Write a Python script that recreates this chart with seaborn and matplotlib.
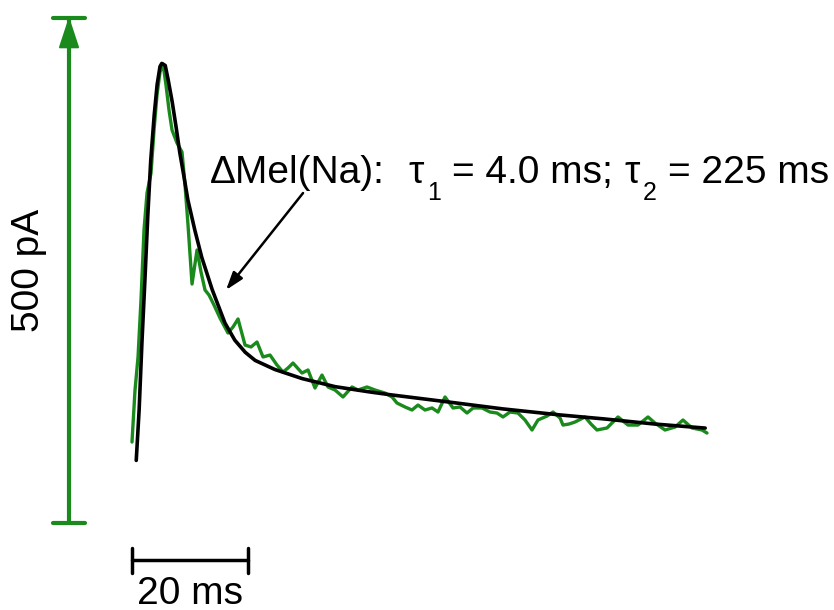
import numpy as np
import pandas as pd
import matplotlib
matplotlib.use("Agg")
import matplotlib.pyplot as plt
import seaborn as sns

# Recorded current trace (time in ms, current in pA)
trace_t = [0.17, 0.69, 1.21, 1.72, 2.24, 2.76, 3.45, 3.97, 4.48, 5.00,
           5.52, 6.03, 6.55, 7.07, 7.93, 8.79, 9.31, 9.83, 10.52, 11.38,
           12.07, 12.76, 13.45, 14.31, 15.34, 16.72, 17.59, 18.45, 19.66, 20.69,
           21.72, 22.76, 23.97, 25.17, 26.21, 27.07, 27.93, 29.48, 30.52, 31.72,
           32.93, 33.97, 35.17, 36.55, 38.10, 39.14, 40.69, 42.07, 43.79, 45.00,
           45.86, 47.24, 48.45, 49.48, 50.69, 51.90, 52.93, 54.14, 55.52, 56.72,
           57.93, 58.97, 60.52, 61.90, 63.10, 64.14, 65.34, 66.72, 67.93, 69.14,
           70.17, 71.72, 72.76, 73.97, 74.48, 75.52, 76.55, 78.28, 79.31, 80.34,
           82.07, 83.97, 85.69, 87.41, 89.14, 90.34, 92.07, 93.79, 95.17, 96.72,
           98.45, 99.31]
trace_pA = [80.2, 131.7, 164.4, 220.8, 290.1, 326.7, 346.5, 389.1, 423.8, 446.5,
            454.5, 433.7, 408.9, 389.1, 376.2, 367.3, 334.7, 295.0, 236.6, 270.3,
            248.5, 230.7, 225.7, 215.8, 203.0, 188.1, 194.1, 202.0, 176.2, 174.3,
            179.2, 164.4, 166.3, 156.4, 149.5, 153.5, 158.4, 148.5, 151.5, 133.7,
            146.5, 134.7, 131.7, 124.8, 134.7, 131.7, 134.7, 131.7, 128.7, 124.8,
            118.8, 114.9, 111.9, 116.8, 111.9, 113.9, 109.9, 124.8, 113.9, 114.9,
            108.9, 113.9, 113.9, 109.9, 108.9, 105.0, 109.9, 108.9, 102.0, 92.1,
            102.0, 105.9, 109.9, 104.0, 97.0, 98.0, 100.0, 105.0, 98.0, 92.1,
            94.1, 105.0, 97.0, 97.0, 105.0, 99.0, 92.1, 95.0, 102.0, 94.1,
            92.1, 89.1]

# Bi-exponential fit
fit_t = [0.9, 1.4, 1.9, 2.4, 2.9, 3.4, 4.0, 4.5, 5.0, 5.3,
         5.9, 6.4, 7.1, 7.8, 8.4, 9.1, 9.8, 11.0, 12.2, 14.0,
         16.2, 17.9, 19.7, 21.4, 24.8, 29.5, 35.2, 40.9, 44.7, 54.5,
         64.1, 74.0, 81.7, 90.3, 99.0]
fit_pA = [62, 112, 181, 241, 305, 359, 404, 434, 452, 455,
          453, 439, 417, 391, 367, 344, 320, 290, 263, 231,
          198, 181, 169, 161, 152, 143, 135, 130, 127, 120,
          113, 107, 103, 98, 94]

# Scale bars
scale_pA = 500
scale_ms = 20

# Fit label: condition and the two decay time constants
condition = "\u0394Mel(Na):"
tau_fast = "4.0 ms"
tau_slow = "225 ms"

green = "#1b8a1d"

sns.set_theme(style="white")
plt.rcParams["font.family"] = ["Liberation Sans", "DejaVu Sans"]
plt.rcParams["text.color"] = "black"

fig = plt.figure(figsize=(8.34, 6.10), dpi=100)
ax = fig.add_axes([0, 0, 1, 1])
ax.set_xlim(-22.59, 121.21)
ax.set_ylim(-86.1, 517.8)
ax.axis("off")

trace = pd.DataFrame({"t": trace_t, "pA": trace_pA})
fit = pd.DataFrame({"t": fit_t, "pA": fit_pA})
sns.lineplot(data=trace, x="t", y="pA", sort=False, estimator=None,
             color=green, lw=2.4, ax=ax, solid_joinstyle="round")
sns.lineplot(data=fit, x="t", y="pA", sort=False, estimator=None,
             color="black", lw=2.6, ax=ax, solid_joinstyle="round")

# Vertical current scale bar with arrow
xv = -10.69
ax.plot([xv, xv], [0, scale_pA], color=green, lw=3, solid_capstyle="butt")
ax.plot([xv - 2.76, xv + 2.76], [0, 0], color=green, lw=3)
ax.plot([xv - 2.76, xv + 2.76], [scale_pA, scale_pA], color=green, lw=3)
ax.fill([xv - 1.55, xv + 1.55, xv], [471, 471, scale_pA - 2],
        color=green, lw=1.5, ec=green, joinstyle="round")
ax.text(-17.6, 250, f"{scale_pA} pA", rotation=90, ha="center", va="center",
        fontsize=28, color="black")

# Horizontal time scale bar
yh = -36.6
ax.plot([0.17, 0.17 + scale_ms], [yh, yh], color="black", lw=2.5)
ax.plot([0.17, 0.17], [-24.8, -49.5], color="black", lw=2.5)
ax.plot([0.17 + scale_ms, 0.17 + scale_ms], [-24.8, -49.5], color="black", lw=2.5)
ax.text(10.2, -80.5, f"{scale_ms} ms", ha="center", va="baseline", fontsize=28,
        color="black")

# Fit annotation: text pieces with lowered subscripts
base_y, sub_y = 336.3, 319.8
big, small = 28, 18
pieces = [
    (13.62, base_y, condition, big),
    (47.76, base_y, "\u03c4", big),
    (51.03, sub_y, "1", small),
    (55.34, base_y, f"= {tau_fast};", big),
    (85.00, base_y, "\u03c4", big),
    (88.28, sub_y, "2", small),
    (92.59, base_y, f"= {tau_slow}", big),
]
for x, y, s, size in pieces:
    ax.text(x, y, s, fontsize=size, ha="left", va="baseline", color="black")

ax.annotate("", xy=(16.38, 230.7), xytext=(29.66, 326.7),
            arrowprops=dict(arrowstyle="-|>,head_length=0.9,head_width=0.3",
                            color="black", lw=1.8, shrinkA=0, shrinkB=0))

fig.savefig("out.png", dpi=100)
